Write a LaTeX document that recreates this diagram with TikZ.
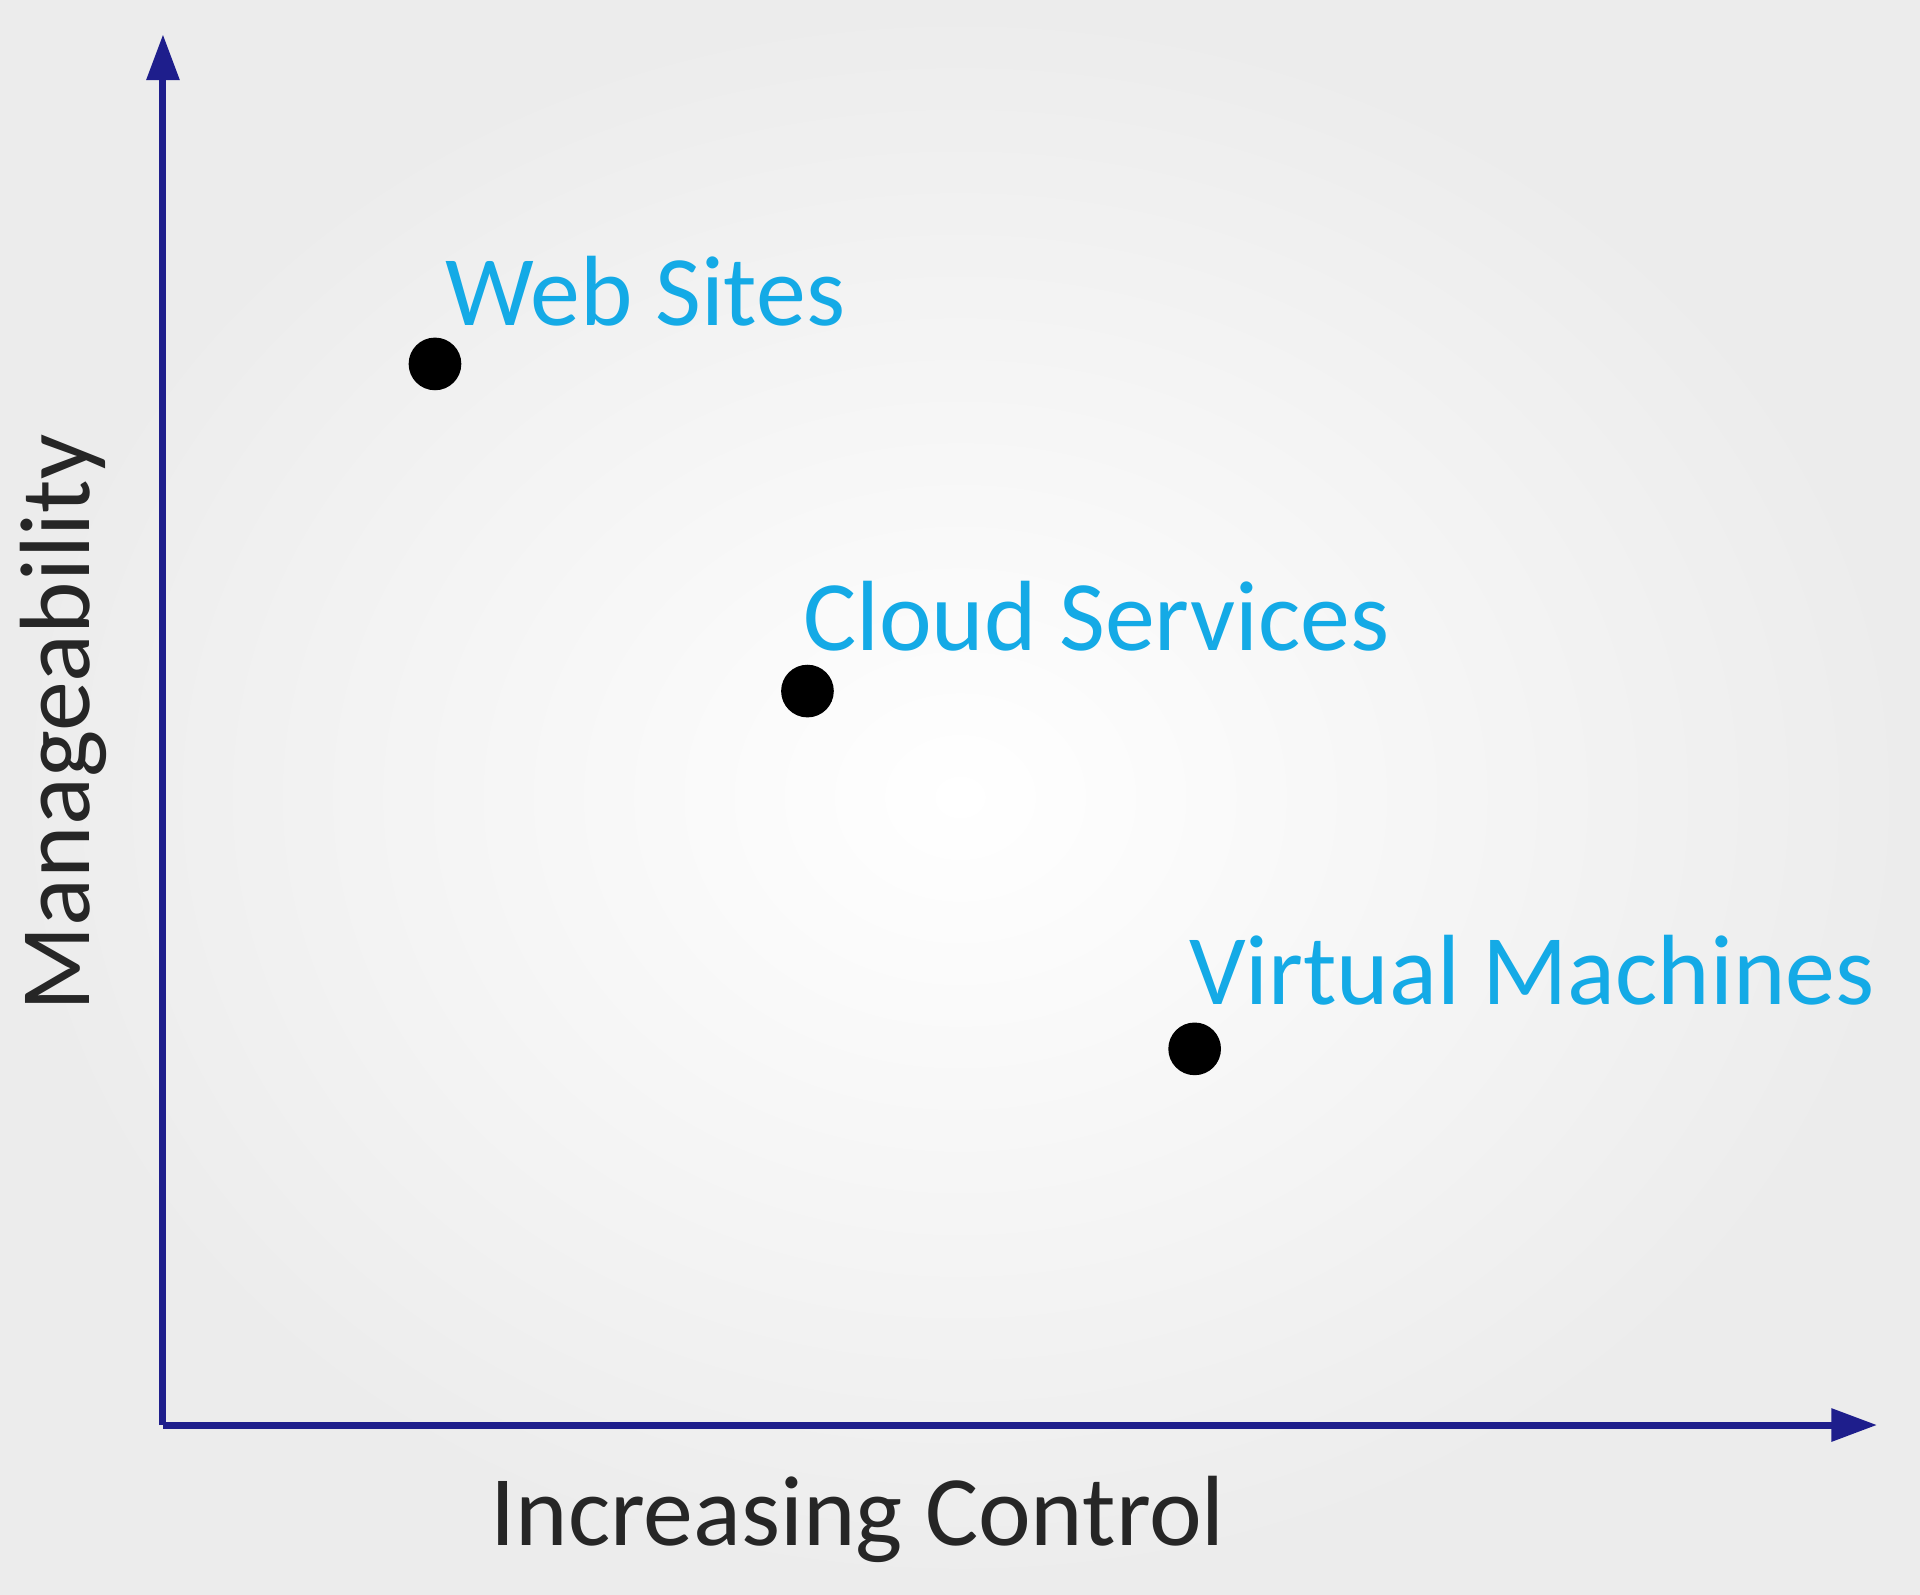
\documentclass[tikz,border=0pt]{standalone}
\usepackage{fontspec}
\setmainfont{Carlito}
\usetikzlibrary{arrows.meta}
\definecolor{axisc}{RGB}{30,30,140}
\definecolor{labc}{RGB}{20,170,230}
\begin{document}
\begin{tikzpicture}[x=0.012253cm,y=-0.012253cm,
  lab/.style={font=\fontsize{28.4}{34}\selectfont,text=labc,anchor=west,inner sep=0pt},
  ax/.style={font=\fontsize{28.4}{34}\selectfont,text=black!85,inner sep=0pt},
  axis/.style={draw=axisc,line width=2pt,-{Triangle[length=13pt,width=9pt]}}]
\shade[inner color=white,outer color=gray!15] (0,0) rectangle (1567,1301);
\useasboundingbox (0,0) rectangle (1567,1301);
\coordinate (o) at (133,1163);
\coordinate (ytop) at (133,28);
\coordinate (xend) at (1532,1163);
\draw[axis] (o) -- (ytop);
\draw[axis] (o) -- (xend);
\fill (355,297) circle (21.5) coordinate (d1);
\fill (659,564) circle (21.5) coordinate (d2);
\fill (975,856) circle (21.5) coordinate (d3);
\node[lab] (ws) at (363,238) {Web Sites};
\node[lab] (cs) at (655,503) {Cloud Services};
\node[lab] (vm) at (970,792) {Virtual Machines};
\node[ax] (xl) at (700,1240) {Increasing Control};
\node[ax,rotate=90] (yl) at (52,590) {Manageability};
\end{tikzpicture}
\end{document}
